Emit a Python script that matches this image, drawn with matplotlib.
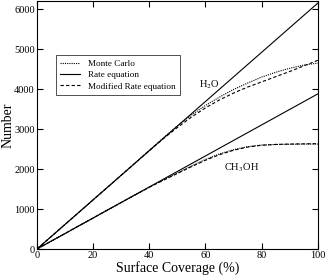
import numpy as np
import matplotlib
matplotlib.use("Agg")
import matplotlib.pyplot as plt

# === dati ===
coverage = [0, 10, 20, 30, 40, 45, 50, 55, 60, 65, 70, 75, 80, 85, 90, 95, 100]

h2o_rate = [0, 615, 1230, 1845, 2460, 2768, 3075, 3383, 3690, 3998, 4305, 4613, 4920, 5228, 5535, 5843, 6150]
h2o_mc = [0, 615, 1230, 1845, 2470, 2780, 3080, 3350, 3590, 3800, 3990, 4150, 4300, 4420, 4520, 4600, 4650]
h2o_mod = [0, 615, 1230, 1845, 2460, 2760, 3040, 3300, 3530, 3730, 3900, 4050, 4180, 4310, 4440, 4580, 4720]

ch3oh_rate = [0, 388, 776, 1164, 1552, 1746, 1940, 2134, 2328, 2522, 2716, 2910, 3104, 3298, 3492, 3686, 3880]
ch3oh_mc = [0, 388, 776, 1164, 1548, 1725, 1900, 2075, 2240, 2380, 2485, 2560, 2600, 2615, 2620, 2625, 2625]
ch3oh_mod = [0, 388, 776, 1164, 1545, 1720, 1890, 2060, 2220, 2360, 2470, 2550, 2595, 2615, 2625, 2630, 2635]

plt.rcParams['font.family'] = ['Liberation Serif', 'DejaVu Serif']
plt.rcParams['mathtext.fontset'] = 'stix'

fig = plt.figure(figsize=(3.27, 2.77), dpi=100)
ax = fig.add_axes([0.113, 0.101, 0.859, 0.895])

lw = 0.8
ax.plot(coverage, h2o_mc, color='black', lw=lw, linestyle=(0, (1, 1)), label='Monte Carlo')
ax.plot(coverage, h2o_rate, color='black', lw=lw, label='Rate equation')
ax.plot(coverage, h2o_mod, color='black', lw=lw, linestyle=(0, (3, 2)), label='Modified Rate equation')
ax.plot(coverage, ch3oh_mc, color='black', lw=lw, linestyle=(0, (1, 1)))
ax.plot(coverage, ch3oh_rate, color='black', lw=lw)
ax.plot(coverage, ch3oh_mod, color='black', lw=lw, linestyle=(0, (3, 2)))

ax.set_xlim(0, 100)
ax.set_ylim(0, 6200)
ax.set_xticks(range(0, 101, 20))
ax.set_yticks(range(0, 6001, 1000))
ax.tick_params(direction='in', length=4, width=0.8, top=True, right=True, labelsize=7.5, pad=1.5)
for s in ax.spines.values():
    s.set_linewidth(0.8)

ax.set_xlabel('Surface Coverage (%)', fontsize=10, labelpad=1)
ax.set_ylabel('Number', fontsize=10, labelpad=0)

ax.text(61.5, 4100, r'H$_2$O', fontsize=7.5, ha='center', va='center')
ax.text(73, 2030, r'CH$_3$OH', fontsize=7.5, ha='center', va='center')

leg = ax.legend(loc='upper left', bbox_to_anchor=(0.05, 0.80), fontsize=6.6, frameon=True,
                fancybox=False, edgecolor='black', handlelength=2.2, borderpad=0.5,
                labelspacing=0.3, handletextpad=0.8)
leg.get_frame().set_linewidth(0.6)

fig.savefig('out.png', dpi=100)
